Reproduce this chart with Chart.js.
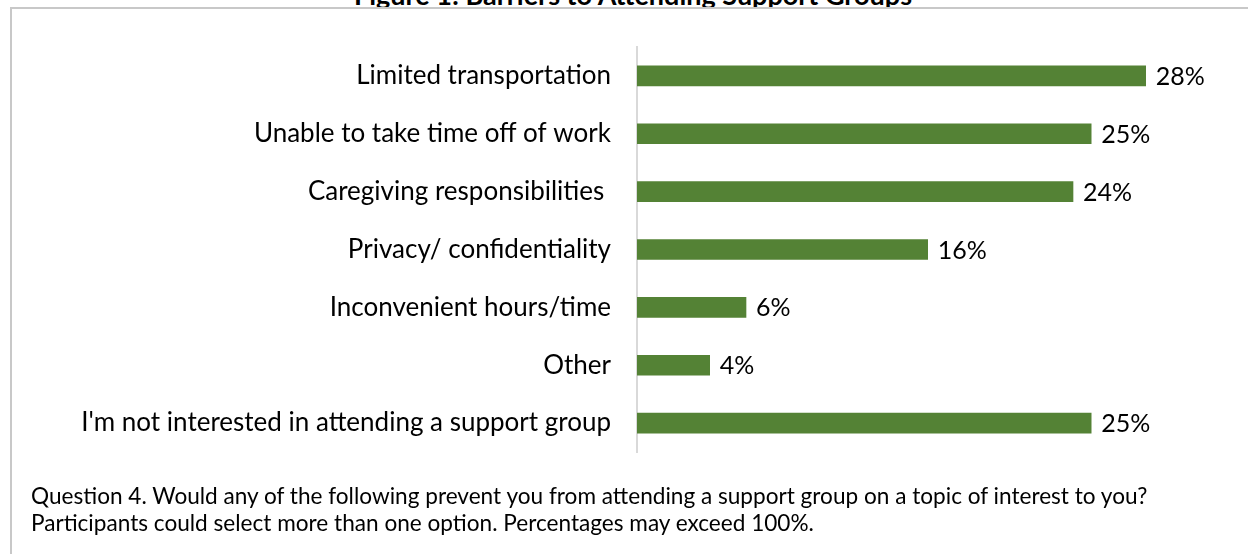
<!DOCTYPE html>
<html>
<head>
<meta charset="utf-8">
<script src="https://cdn.jsdelivr.net/npm/chart.js@4.4.1/dist/chart.umd.min.js"></script>
<style>
  html, body { margin: 0; padding: 0; background: #fff; }
  body { width: 1248px; height: 554px; position: relative; overflow: hidden; font-family: Lato, "Open Sans", sans-serif; }
  #title { position: absolute; left: 0; width: 1266px; top: -19px; text-align: center; font-weight: bold; font-size: 27px; line-height: 27px; color: #000; white-space: nowrap; }
  #frame { position: absolute; left: 10px; top: 7px; width: 1260px; height: 560px; border-top: 2px solid #c8c8c8; border-left: 2px solid #c8c8c8; }
  #wrap { position: absolute; left: 0; top: 0; width: 1248px; height: 554px; }
  #note { position: absolute; left: 31px; top: 482px; font-size: 22.6px; line-height: 27px; color: #000; white-space: nowrap; }
</style>
</head>
<body>
<div id="title">Figure 1: Barriers to Attending Support Groups</div>
<div id="frame"></div>
<div id="wrap"><canvas id="barriers-plot"></canvas></div>
<div id="note">Question 4. Would any of the following prevent you from attending a support group on a topic of interest to you?<br>Participants could select more than one option. Percentages may exceed 100%.</div>
<script>
var categories = [
    'Limited transportation',
    'Unable to take time off of work',
    'Caregiving responsibilities ',
    'Privacy/ confidentiality',
    'Inconvenient hours/time',
    'Other',
    "I'm not interested in attending a support group",
];
var percents = [28, 25, 24, 16, 6, 4, 25];

// write the percentage just past the end of each bar
var valueLabels = {
    id: 'valueLabels',
    afterDatasetsDraw: function (chart) {
        var ctx = chart.ctx;
        var meta = chart.getDatasetMeta(0);
        ctx.save();
        ctx.font = '25px Lato';
        ctx.fillStyle = '#000';
        ctx.textAlign = 'left';
        ctx.textBaseline = 'middle';
        meta.data.forEach(function (bar, i) {
            ctx.fillText(percents[i] + '%', bar.x + 10, bar.y + 1);
        });
        ctx.restore();
    }
};

var layout = {
    type: 'bar',
    data: {
        labels: categories,
        datasets: [{
            data: percents,
            backgroundColor: '#548235',
            barThickness: 20,
        }]
    },
    options: {
        indexAxis: 'y',
        responsive: true,
        maintainAspectRatio: false,
        animation: false,
        layout: {
            padding: { top: 47, bottom: 102, left: 0, right: 66 }
        },
        scales: {
            x: {
                display: false,
                min: 0,
                max: 30,
            },
            y: {
                afterFit: function (scale) { scale.width = 637; },
                grid: { display: false, drawTicks: false },
                border: { display: true, color: '#d9d9d9', width: 2 },
                ticks: {
                    color: '#000',
                    padding: 26,
                    font: { family: 'Lato', size: 26 }
                }
            }
        },
        plugins: {
            legend: { display: false },
            tooltip: { enabled: false }
        }
    },
    plugins: [valueLabels]
}

const barChart = document.getElementById('barriers-plot');
new Chart(barChart, layout);
</script>
</body>
</html>
